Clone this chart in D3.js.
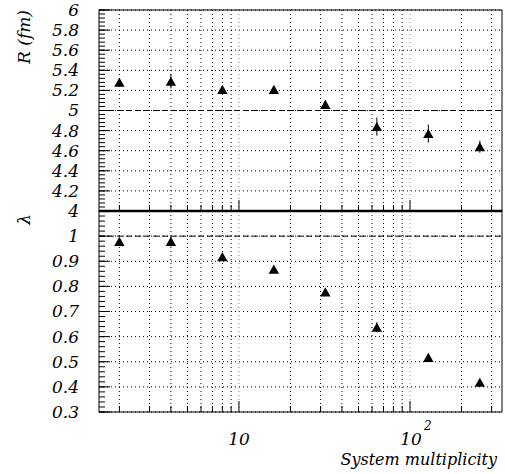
<!DOCTYPE html>
<html lang="en">
<head>
<meta charset="utf-8">
<script src="https://d3js.org/d3.v7.min.js"></script>
<style>
  body { margin: 0; background: #fff; }
</style>
</head>
<body>
<div id="chart"></div>
<script>
// data
var multiplicity = [2, 4, 8, 16, 32, 64, 128, 256];
var radius = [5.28, 5.29, 5.21, 5.21, 5.06, 4.84, 4.77, 4.64];
var radiusErr = [0.03, 0.07, 0.03, 0.02, 0.04, 0.09, 0.09, 0.06];
var lambda = [0.979, 0.979, 0.918, 0.868, 0.778, 0.637, 0.517, 0.418];
var lambdaErr = [0.01, 0.02, 0.01, 0.01, 0.01, 0.02, 0.01, 0.01];
var rTicks = [4, 4.2, 4.4, 4.6, 4.8, 5, 5.2, 5.4, 5.6, 5.8, 6];
var lTicks = [0.3, 0.4, 0.5, 0.6, 0.7, 0.8, 0.9, 1];
var xTicks = [2, 3, 4, 5, 6, 7, 8, 9, 10, 20, 30, 40, 50, 60, 70, 80, 90, 100, 200, 300];
var rRef = 5, lRef = 1;

var w = 505, h = 474;
var pLeft = 99, pRight = 502, pTop = 10, pMid = 211, pBottom = 412;
var fs = "17px";
var serif = "'DejaVu Serif', serif";

var svg = d3.select("#chart").append("svg")
    .attr("width", w)
    .attr("height", h);

var x = d3.scaleLog().domain([1.52, 345]).range([pLeft, pRight]);
var yR = d3.scaleLinear().domain([4, 6]).range([pMid, pTop]);
var yL = d3.scaleLinear().domain([0.3, 1.1]).range([pBottom, pMid]);

function label(sel, size) {
    return sel.attr("font-family", serif).attr("font-style", "italic")
        .attr("fill", "#000").attr("font-size", size || fs);
}

function panel(y, majors, minorStep, ref, values, errs, y0, y1) {
    var g = svg.append("g");
    // grid
    g.selectAll(".hg").data(majors).enter().append("line")
        .attr("x1", pLeft).attr("x2", pRight)
        .attr("y1", function(d) { return y(d); }).attr("y2", function(d) { return y(d); })
        .attr("stroke", "#000").attr("stroke-width", 1).attr("stroke-dasharray", "1,3");
    g.selectAll(".vg").data(xTicks).enter().append("line")
        .attr("x1", function(d) { return x(d); }).attr("x2", function(d) { return x(d); })
        .attr("y1", y0).attr("y2", y1)
        .attr("stroke", function(d) { return (d == 10 || d == 100) ? "#888" : "#000"; })
        .attr("stroke-width", 1).attr("stroke-dasharray", "1,3");
    // reference line
    g.append("line")
        .attr("x1", pLeft).attr("x2", pRight)
        .attr("y1", y(ref)).attr("y2", y(ref))
        .attr("stroke", "#000").attr("stroke-width", 1).attr("stroke-dasharray", "6,3");

    // y ticks
    var dom = y.domain();
    var minors = d3.range(Math.round(dom[0] / minorStep), Math.round(dom[1] / minorStep) + 1)
        .map(function(i) { return i * minorStep; });
    g.selectAll(".ym").data(minors).enter().append("line")
        .attr("x1", pLeft).attr("x2", pLeft + 6)
        .attr("y1", function(d) { return y(d); }).attr("y2", function(d) { return y(d); })
        .attr("stroke", "#000");
    g.selectAll(".yM").data(majors).enter().append("line")
        .attr("x1", pLeft).attr("x2", pLeft + 11)
        .attr("y1", function(d) { return y(d); }).attr("y2", function(d) { return y(d); })
        .attr("stroke", "#000");
    label(g.selectAll(".yl").data(majors).enter().append("text")
        .attr("x", 79).attr("y", function(d) { return y(d); })
        .attr("dy", "0.35em")
        .attr("text-anchor", "end"))
        .text(function(d) { return d3.format("~g")(d); });

    // x ticks
    g.selectAll(".xt").data(xTicks).enter().append("line")
        .attr("x1", function(d) { return x(d); }).attr("x2", function(d) { return x(d); })
        .attr("y1", y1).attr("y2", function(d) { return (d == 10 || d == 100) ? y1 - 11 : y1 - 6; })
        .attr("stroke", "#000");

    // frame
    g.append("rect")
        .attr("x", pLeft).attr("y", y0)
        .attr("width", pRight - pLeft).attr("height", y1 - y0)
        .attr("fill", "none").attr("stroke", "#000").attr("stroke-width", 1);

    // error bars and markers
    g.selectAll(".err").data(multiplicity).enter().append("line")
        .attr("x1", function(d) { return x(d); }).attr("x2", function(d) { return x(d); })
        .attr("y1", function(d, i) { return y(values[i] - errs[i]); })
        .attr("y2", function(d, i) { return y(values[i] + errs[i]); })
        .attr("stroke", "#000").attr("stroke-width", 1);
    g.selectAll(".mk").data(multiplicity).enter().append("path")
        .attr("transform", function(d, i) { return "translate(" + x(d) + "," + y(values[i]) + ")"; })
        .attr("d", "M0,-4.7L5.2,4.5L-5.2,4.5Z")
        .attr("fill", "#000");
}

panel(yR, rTicks, 0.04, rRef, radius, radiusErr, pTop, pMid);
panel(yL, lTicks, 0.02, lRef, lambda, lambdaErr, pMid, pBottom);

// thick divider
svg.append("line")
    .attr("x1", pLeft).attr("x2", pRight)
    .attr("y1", pMid).attr("y2", pMid)
    .attr("stroke", "#000").attr("stroke-width", 2.5);

// axis titles
label(svg.append("text")
    .attr("transform", "translate(30," + pTop + ") rotate(-90)")
    .attr("text-anchor", "end"))
    .text("R (fm)");
label(svg.append("text")
    .attr("transform", "translate(30," + (pMid + 3) + ") rotate(-90)")
    .attr("text-anchor", "end"))
    .text("λ");

// x labels
label(svg.append("text")
    .attr("x", x(10)).attr("y", 445)
    .attr("text-anchor", "middle"))
    .text("10");
label(svg.append("text")
    .attr("x", x(100) + 1).attr("y", 445)
    .attr("text-anchor", "middle"))
    .text("10");
label(svg.append("text")
    .attr("x", x(100) + 14).attr("y", 430), "12px")
    .text("2");

label(svg.append("text")
    .attr("x", 497).attr("y", 465)
    .attr("text-anchor", "end"), "16px")
    .text("System multiplicity");
</script>
</body>
</html>
